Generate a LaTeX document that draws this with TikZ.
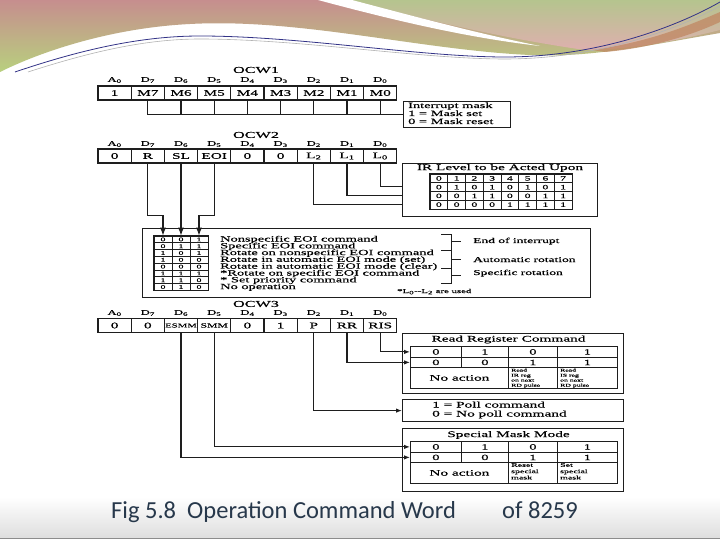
\documentclass[tikz,border=0pt]{standalone}
\usepackage{fontspec}
\setmainfont{Liberation Serif}
\newfontfamily\df{Liberation Serif}[FakeStretch=1.8,FakeBold=0.5]
\newfontfamily\capfont{Carlito}
\usetikzlibrary{arrows.meta,calc}
\definecolor{pinkA}{HTML}{C68E8E}
\definecolor{greenA}{HTML}{B8D07E}
\definecolor{greenB}{HTML}{B5C48E}
\definecolor{pinkB}{HTML}{DEB0AE}
\definecolor{brownA}{HTML}{C08762}
\definecolor{captxt}{HTML}{27384B}
\definecolor{ln}{HTML}{1E1E1E}
\tikzset{
 cell/.style={draw=ln, line width=1.1pt, minimum width=33.2pt, minimum height=14pt, inner sep=0pt, font=\df\fontsize{8.5}{9}\selectfont},
 bitlbl/.style={inner sep=0pt, font=\df\fontsize{7}{8}\selectfont},
 ttl/.style={inner sep=0pt, font=\df\fontsize{9}{10}\selectfont},
 ttlb/.style={inner sep=0pt, font=\df\fontsize{8.5}{9}\selectfont},
 boxx/.style={draw=ln, line width=1.2pt, inner sep=0pt},
 wire/.style={draw=ln, line width=1.1pt},
 arr/.style={wire, -{Latex[length=6pt,width=4.5pt]}},
 bigarr/.style={wire, -{Latex[length=8pt,width=6pt]}},
 txt/.style={inner sep=0pt, anchor=base west, font=\df\fontsize{8}{9}\selectfont},
 gridc/.style={draw=ln, line width=0.7pt, inner sep=0pt, font=\df\fontsize{6.5}{7}\selectfont},
 tcell/.style={draw=ln, line width=0.8pt, inner sep=0pt, anchor=north west, font=\df\fontsize{8}{9}\selectfont},
 tiny/.style={inner sep=0pt, anchor=north west, align=left, font=\df\fontsize{4.3}{5}\selectfont},
 small/.style={inner sep=0pt, anchor=north west, align=left, font=\df\fontsize{5.5}{6.3}\selectfont},
}
\begin{document}
\begin{tikzpicture}[x=1pt,y=-1pt]
\useasboundingbox (0,0) rectangle (720,540);
\fill[white] (0,0) rectangle (720,540);
\shade[top color=white, bottom color=black!13] (0,497) rectangle (720,538);
\draw[black!45, line width=1pt] (0,538.5) -- (720,538.5);
% top decoration
\shade[top color=pinkA, bottom color=greenA] (0,0) -- (720,0) -- (720,33) .. controls (650,45) and (590,58) .. (530,55) .. controls (420,50) and (300,18) .. (190,24) .. controls (110,28) and (40,52) .. (0,72) -- cycle;
\shade[top color=greenB, bottom color=pinkB] (345,0) -- (720,0) -- (720,30) .. controls (680,40) and (630,50) .. (585,50) .. controls (500,38) and (420,18) .. (345,0) -- cycle;
\fill[white] (318,0) -- (352,0) .. controls (420,18) and (480,34) .. (540,46) .. controls (470,38) and (400,22) .. (318,0) -- cycle;
\fill[brownA, opacity=0.75] (592,50) .. controls (650,42) and (690,25) .. (720,12) -- (720,22) .. controls (690,36) and (650,48) .. (605,52) -- cycle;
\draw[black!45!blue!60!gray, line width=0.8pt] (15,72) .. controls (80,50) and (140,36) .. (200,36) .. controls (300,36) and (420,57) .. (505,57) .. controls (600,57) and (680,25) .. (720,2);
\draw[black!30, line width=0.6pt] (28,72) .. controls (90,52) and (145,39) .. (200,39) .. controls (300,39) and (420,59) .. (505,59) .. controls (600,59) and (680,28) .. (720,6);

% ===== OCW1 =====
\node[ttl] (t1) at (256,70) {OCW1};
\node[bitlbl] (la0) at (114.6,80) {A\textsubscript{0}};
\foreach \s [count=\i from 1] in {7,6,5,4,3,2,1,0}
  \node[bitlbl] (la\i) at ({114.6+33.2*\i},80) {D\textsubscript{\s}};
\foreach \t [count=\i from 0] in {1,M7,M6,M5,M4,M3,M2,M1,M0}
  \node[cell] (a\i) at ({114.6+33.2*\i},93) {\t};
\node[boxx, anchor=north west, minimum width=107pt, minimum height=26pt] (imask) at (403,101) {};
\node[txt] (im1) at (408,108) {Interrupt mask};
\node[txt] (im2) at (408,116) {1 = Mask set};
\node[txt] (im3) at (408,124) {0 = Mask reset};
\foreach \i in {1,...,8}
  \draw[wire] (a\i.south) -- (a\i.south |- imask.west);
\draw[wire] (a1.south |- imask.west) -- (imask.west);

% ===== OCW2 =====
\node[ttl] (t2) at (256,135) {OCW2};
\node[bitlbl] (lb0) at (114.6,144) {A\textsubscript{0}};
\foreach \s [count=\i from 1] in {7,6,5,4,3,2,1,0}
  \node[bitlbl] (lb\i) at ({114.6+33.2*\i},144) {D\textsubscript{\s}};
\foreach \t [count=\i from 0] in {0,R,SL,EOI,0,0,L\textsubscript{2},L\textsubscript{1},L\textsubscript{0}}
  \node[cell] (b\i) at ({114.6+33.2*\i},156) {\t};
% IR level box
\node[boxx, anchor=north west, minimum width=195pt, minimum height=53pt] (irbox) at (402,163) {};
\node[ttlb] (irt) at (500,168) {IR Level to be Acted Upon};
\foreach \row [count=\r from 0] in {{0,1,2,3,4,5,6,7},{0,1,0,1,0,1,0,1},{0,0,1,1,0,0,1,1},{0,0,0,0,1,1,1,1}}
  \foreach \v [count=\c from 0] in \row
    \node[gridc, minimum width=17.75pt, minimum height=8.75pt] (ir\r\c) at ({430+17.75*(\c+0.5)},{174+8.75*(\r+0.5)}) {\v};
\draw[ln, line width=1.1pt] (ir00.north west) rectangle (ir37.south east);
\draw[wire] (b6.south) |- ([yshift=-14.5pt]irbox.west);
\draw[wire] (b7.south) |- ([yshift=-5.5pt]irbox.west);
\draw[wire] (b8.south) |- ([yshift=3.5pt]irbox.west);

% ===== EOI table =====
\node[boxx, anchor=north west, minimum width=448pt, minimum height=69pt] (eoibox) at (142,228) {};
\foreach \row [count=\r from 0] in {{0,0,1},{0,1,1},{1,0,1},{1,0,0},{0,0,0},{1,1,1},{1,1,0},{0,1,0}}
  \foreach \v [count=\c from 0] in \row
    \node[gridc, font=\df\fontsize{5.5}{6}\selectfont, minimum width=18pt, minimum height=6.8pt] (e\r\c) at ({163+18*\c},{236+6.8*(\r+0.5)}) {\v};
\draw[ln, line width=1.1pt] (e00.north west) rectangle (e72.south east);
\foreach \et [count=\k from 0] in {Nonspecific EOI command,Specific EOI command,Rotate on nonspecific EOI command,Rotate in automatic EOI mode (set),Rotate in automatic EOI mode (clear),*Rotate on specific EOI command,* Set priority command,No operation}
  \node[txt] (eoit\k) at (220,{236+6.8*(\k+1)-1.3}) {\et};
\node[inner sep=0pt, anchor=base west, font=\df\fontsize{6}{7}\selectfont] (lnote) at (397,293) {*L\textsubscript{0}--L\textsubscript{2} are used};
\draw[wire, line width=0.9pt] (441,234) -- (451,234) -- (451,283) -- (441,283);
\draw[wire, line width=0.9pt] (441,250) -- (451,250);
\draw[wire, line width=0.9pt] (441,268) -- (451,268);
\draw[wire, line width=0.9pt] (451,241) -- (461,241);
\draw[wire, line width=0.9pt] (451,259) -- (461,259);
\draw[wire, line width=0.9pt] (451,275) -- (461,275);
\node[txt, font=\df\fontsize{7.5}{8}\selectfont] (br1) at (473,243) {End of interrupt};
\node[txt, font=\df\fontsize{7.5}{8}\selectfont] (br2) at (473,262) {Automatic rotation};
\node[txt, font=\df\fontsize{7.5}{8}\selectfont] (br3) at (473,275) {Specific rotation};
% arrows into the table
\draw[bigarr] (b1.south) -- ++(0,52) -| (e00.north);
\draw[bigarr] (b2.south) -- (e01.north);
\draw[bigarr] (b3.south) -- ++(0,52) -| (e02.north);

% ===== OCW3 =====
\node[ttl] (t3) at (256,304) {OCW3};
\node[bitlbl] (lc0) at (114.6,313) {A\textsubscript{0}};
\foreach \s [count=\i from 1] in {7,6,5,4,3,2,1,0}
  \node[bitlbl] (lc\i) at ({114.6+33.2*\i},313) {D\textsubscript{\s}};
\foreach \t [count=\i from 0] in {0,0,,,0,1,P,RR,RIS}
  \node[cell] (c\i) at ({114.6+33.2*\i},325.5) {\t};
\node[inner sep=0pt, font=\df\fontsize{6}{7}\selectfont] (esmm) at (c2) {ESMM};
\node[inner sep=0pt, font=\df\fontsize{6.5}{7}\selectfont] (smm) at (c3) {SMM};
% Read register command
\node[boxx, anchor=north west, minimum width=221pt, minimum height=60pt] (rrbox) at (402,333) {};
\node[ttlb] (rrt) at (508.5,339.5) {Read Register Command};
\node[tcell, minimum width=51pt, minimum height=11pt] (rr11) at (410,346) {0};
\node[tcell, minimum width=47pt, minimum height=11pt] (rr12) at (461,346) {1};
\node[tcell, minimum width=49pt, minimum height=11pt] (rr13) at (508,346) {0};
\node[tcell, minimum width=60pt, minimum height=11pt] (rr14) at (557,346) {1};
\node[tcell, minimum width=51pt, minimum height=10pt] (rr21) at (410,357) {0};
\node[tcell, minimum width=47pt, minimum height=10pt] (rr22) at (461,357) {0};
\node[tcell, minimum width=49pt, minimum height=10pt] (rr23) at (508,357) {1};
\node[tcell, minimum width=60pt, minimum height=10pt] (rr24) at (557,357) {1};
\node[tcell, minimum width=98pt, minimum height=21pt, font=\df\fontsize{8.5}{9}\selectfont] (rr31) at (410,367) {No action};
\node[tcell, minimum width=49pt, minimum height=21pt] (rr33) at (508,367) {};
\node[tcell, minimum width=60pt, minimum height=21pt] (rr34) at (557,367) {};
\node[tiny] (rrx3) at (511,368.5) {Read\\IR reg\\on next\\RD pulse};
\node[tiny] (rrx4) at (560,368.5) {Read\\IS reg\\on next\\RD pulse};
% Poll box
\node[boxx, anchor=north west, minimum width=221pt, minimum height=22pt] (pollbox) at (402,399) {};
\node[txt, font=\df\fontsize{8.5}{9}\selectfont] (p1) at (432,407.5) {1 = Poll command};
\node[txt, font=\df\fontsize{8.5}{9}\selectfont] (p2) at (432,416.5) {0 = No poll command};
% Special mask mode
\node[boxx, anchor=north west, minimum width=221pt, minimum height=63pt] (smmbox) at (402,428) {};
\node[ttlb] (smt) at (508.5,435) {Special Mask Mode};
\node[tcell, minimum width=51pt, minimum height=11pt] (sm11) at (410,441) {0};
\node[tcell, minimum width=47pt, minimum height=11pt] (sm12) at (461,441) {1};
\node[tcell, minimum width=49pt, minimum height=11pt] (sm13) at (508,441) {0};
\node[tcell, minimum width=60pt, minimum height=11pt] (sm14) at (557,441) {1};
\node[tcell, minimum width=51pt, minimum height=10pt] (sm21) at (410,452) {0};
\node[tcell, minimum width=47pt, minimum height=10pt] (sm22) at (461,452) {0};
\node[tcell, minimum width=49pt, minimum height=10pt] (sm23) at (508,452) {1};
\node[tcell, minimum width=60pt, minimum height=10pt] (sm24) at (557,452) {1};
\node[tcell, minimum width=98pt, minimum height=21pt, font=\df\fontsize{8.5}{9}\selectfont] (sm31) at (410,462) {No action};
\node[tcell, minimum width=49pt, minimum height=21pt] (sm33) at (508,462) {};
\node[tcell, minimum width=60pt, minimum height=21pt] (sm34) at (557,462) {};
\node[small] (smx3) at (511,463) {Reset\\special\\mask};
\node[small] (smx4) at (560,463) {Set\\special\\mask};
% OCW3 wires
\draw[arr] (c8.south) |- (rr11.west);
\draw[arr] (c7.south) |- (rr21.west);
\draw[arr] (c6.south) |- (pollbox.west);
\draw[arr] (c3.south) |- (sm11.west);
\draw[arr] (c2.south) |- (sm21.west);

% caption
\node[anchor=base west, inner sep=0pt, font=\capfont\fontsize{24.5}{28}\selectfont, text=captxt] (cap1) at (111,518) {Fig 5.8\ \ Operation Command Word};
\node[anchor=base west, inner sep=0pt, font=\capfont\fontsize{24.5}{28}\selectfont, text=captxt] (cap2) at (502,518) {of 8259};
\end{tikzpicture}
\end{document}
